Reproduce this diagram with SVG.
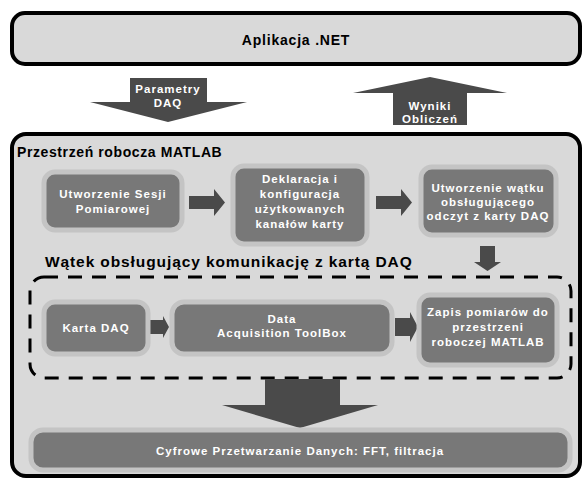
<svg xmlns="http://www.w3.org/2000/svg" width="583" height="479" viewBox="0 0 583 479">
<style>
.big{fill:#d9d9d9;stroke:#000;stroke-width:4}
.node{fill:#787878;stroke:#c4c4c4;stroke-width:5}
.arr{fill:#4a4a4a;stroke:none}
.t{font-family:"Liberation Sans",Arial,sans-serif;font-weight:bold;fill:#fff;font-size:11.5px;letter-spacing:1px;text-anchor:middle}
.h{font-family:"Liberation Sans",Arial,sans-serif;font-weight:bold;fill:#000}
.dash{fill:none;stroke:#000;stroke-width:3;stroke-dasharray:14 10}
</style>
<rect width="583" height="479" fill="#fff"/>
<g id="app">
<rect class="big" x="12" y="13" width="568" height="51" rx="13"/>
<text class="h" x="296" y="45" font-size="14" letter-spacing="0.8" text-anchor="middle">Aplikacja .NET</text>
</g>
<g id="matlab">
<rect class="big" x="12" y="134" width="568" height="342" rx="14"/>
<text class="h" x="17" y="157" font-size="14" letter-spacing="0.6">Przestrzeń robocza MATLAB</text>
</g>
<g id="thread">
<rect class="dash" x="30" y="277" width="541" height="101" rx="14"/>
<text class="h" x="45" y="267" font-size="15.5" letter-spacing="0.9">Wątek obsługujący komunikację z kartą DAQ</text>
</g>
<g id="connectors">
<polygon class="arr" points="130,78 207,78 207,102 247,102 168,122 90,102 130,102"/>
<polygon class="arr" points="393,125 467,125 467,93 507,93 430,77 353,93 393,93"/>
<polygon class="arr" points="189,196 214,196 214,189 225,202.5 214,216 214,209 189,209"/>
<polygon class="arr" points="376,196 401,196 401,189 412,202.5 401,216 401,209 376,209"/>
<polygon class="arr" points="480,246 495,246 495,262 501,262 487.5,271 474,262 480,262"/>
<polygon class="arr" points="148,320 163,320 163,316 169,327 163,338 163,334 148,334"/>
<polygon class="arr" points="395,318 410,318 410,312 418,327 410,342 410,336 395,336"/>
<polygon class="arr" points="265,379 340,379 340,405 378,405 300,428 222,405 265,405"/>
</g>
<g id="labels">
<text class="t" x="168" y="93">Parametry</text>
<text class="t" x="168" y="107">DAQ</text>
<text class="t" x="430" y="110">Wyniki</text>
<text class="t" x="430" y="123">Obliczeń</text>
</g>
<g id="n1">
<rect class="node" x="44" y="172" width="138" height="58" rx="11"/>
<text class="t" x="113" y="198">Utworzenie Sesji</text>
<text class="t" x="113" y="213">Pomiarowej</text>
</g>
<g id="n2">
<rect class="node" x="233" y="166" width="134" height="78" rx="11"/>
<text class="t" x="300" y="183">Deklaracja i</text>
<text class="t" x="300" y="198">konfiguracja</text>
<text class="t" x="300" y="213">użytkowanych</text>
<text class="t" x="300" y="228">kanałów karty</text>
</g>
<g id="n3">
<rect class="node" x="421" y="167" width="135" height="68" rx="11"/>
<text class="t" x="488" y="192">Utworzenie wątku</text>
<text class="t" x="488" y="206">obsługującego</text>
<text class="t" x="488" y="220">odczyt z karty DAQ</text>
</g>
<g id="n4">
<rect class="node" x="44" y="302" width="104" height="52" rx="11"/>
<text class="t" x="96" y="332">Karta DAQ</text>
</g>
<g id="n5">
<rect class="node" x="172" y="302" width="220" height="52" rx="12"/>
<text class="t" x="282" y="323">Data</text>
<text class="t" x="282" y="337">Acquisition ToolBox</text>
</g>
<g id="n6">
<rect class="node" x="419" y="295" width="138" height="70" rx="11"/>
<text class="t" x="488" y="316">Zapis pomiarów do</text>
<text class="t" x="488" y="331">przestrzeni</text>
<text class="t" x="488" y="346">roboczej MATLAB</text>
</g>
<g id="n7">
<rect class="node" x="31" y="430" width="539" height="40" rx="12"/>
<text class="t" x="300" y="455" letter-spacing="0.5">Cyfrowe Przetwarzanie Danych: FFT, filtracja</text>
</g>
</svg>
